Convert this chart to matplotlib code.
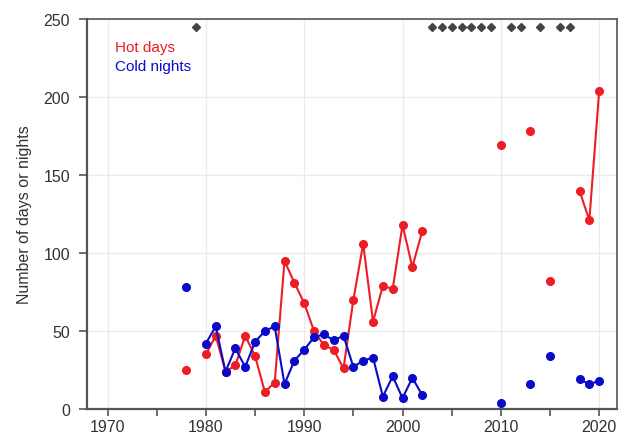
import numpy as np
import matplotlib
matplotlib.use("Agg")
import matplotlib.pyplot as plt

plt.rcParams['font.family'] = ['Liberation Sans', 'DejaVu Sans']

nan = np.nan

# years 1978..2020, NaN where no record
years = list(range(1978, 2021))
hot_days = [25, nan, 35, 47, 24, 28, 47, 34, 11, 17,
            95, 81, 68, 50, 41, 38, 26, 70, 106, 56,
            79, 77, 118, 91, 114, nan, nan, nan, nan, nan,
            nan, nan, 169, nan, nan, 178, nan, 82, nan, nan,
            140, 121, 204]
cold_nights = [78, nan, 42, 53, 24, 39, 27, 43, 50, 53,
               16, 31, 38, 46, 48, 44, 47, 27, 31, 33,
               8, 21, 7, 20, 9, nan, nan, nan, nan, nan,
               nan, nan, 4, nan, nan, 16, nan, 34, nan, nan,
               19, 16, 18]
missing_years = [1979, 2003, 2004, 2005, 2006, 2007, 2008, 2009,
                 2011, 2012, 2014, 2016, 2017]

red = "#ee1c24"
blue = "#0a0ac8"
txt = "#333333"

fig = plt.figure(figsize=(6.25, 4.39), dpi=100)
ax = fig.add_axes([0.139, 0.066, 0.848, 0.888])

ax.plot(years, hot_days, color=red, lw=1.5, marker="o", ms=5.5, zorder=3)
ax.plot(years, cold_nights, color=blue, lw=1.5, marker="o", ms=5.5, zorder=3)
ax.plot(missing_years, [245] * len(missing_years), ls="none", marker="D",
        ms=4.5, color="#444444", zorder=3)

ax.set_xlim(1967.9, 2021.8)
ax.set_ylim(0, 250)
ax.set_xticks(range(1970, 2021, 10))
ax.set_xticks(range(1975, 2020, 10), minor=True)
ax.set_yticks(range(0, 251, 50))
ax.grid(True, which="major", color="#ebebeb", lw=1)
ax.set_axisbelow(True)

for s in ax.spines.values():
    s.set_color("#555555")
    s.set_linewidth(1.2)
ax.spines["left"].set_linewidth(1.6)
ax.spines["bottom"].set_linewidth(1.6)

ax.tick_params(axis="both", which="both", direction="out", color="#555555",
               labelcolor=txt, labelsize=11.5)
ax.tick_params(axis="x", which="both", length=5, width=1.2, pad=2)
ax.tick_params(axis="y", length=6, width=1.2, pad=6)

ax.set_ylabel("Number of days or nights", fontsize=11.5, color=txt, labelpad=8)

ax.text(0.053, 0.928, "Hot days", transform=ax.transAxes, color=red, fontsize=11, va="center")
ax.text(0.053, 0.88, "Cold nights", transform=ax.transAxes, color=blue, fontsize=11, va="center")

fig.savefig("out.png", dpi=100)
